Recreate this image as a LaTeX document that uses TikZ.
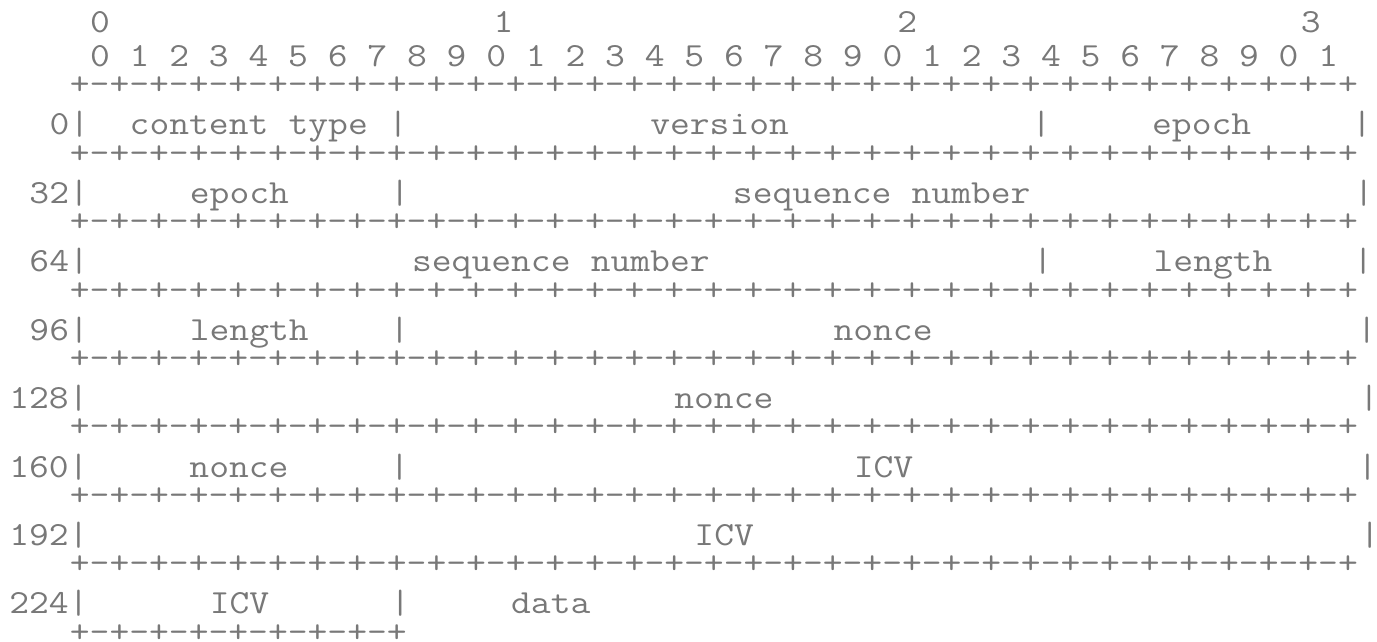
\documentclass[tikz,border=0pt]{standalone}
\usepackage{graphicx}
\definecolor{ascii}{RGB}{120,120,120}
\newcommand\gap[1]{\hspace*{#1\dimexpr 0.525em\relax}}
\newcommand\brdfull{+-+-+-+-+-+-+-+-+-+-+-+-+-+-+-+-+-+-+-+-+-+-+-+-+-+-+-+-+-+-+-+-+}
\newcommand\asline[1]{\scalebox{1.141}[1]{#1}}
\begin{document}
\begin{tikzpicture}[x=1pt,y=1pt,
  asc/.style={anchor=base west, inner sep=0pt, outer sep=0pt, text=ascii,
    font=\fontsize{16.86}{20}\selectfont\ttfamily},
  brd/.style={asc, yshift=3pt}]
\useasboundingbox (0,0) rectangle (688.5,-321);
\def\X{4.65}
\node[asc] (l0)  at (\X,-16.2)  {\asline{\gap{4}0\gap{19}1\gap{19}2\gap{19}3}};
\node[asc] (l1)  at (\X,-33.3)  {\asline{\gap{4}0~1~2~3~4~5~6~7~8~9~0~1~2~3~4~5~6~7~8~9~0~1~2~3~4~5~6~7~8~9~0~1}};
\node[brd] (l2)  at (\X,-50.4)  {\asline{\gap{3}\brdfull}};
\node[asc] (l3)  at (\X,-67.5)  {\asline{\gap{2}0|\gap{2}content\gap{1}type\gap{1}|\gap{12}version\gap{12}|\gap{5}epoch\gap{5}|}};
\node[brd] (l4)  at (\X,-84.6)  {\asline{\gap{3}\brdfull}};
\node[asc] (l5)  at (\X,-101.7) {\asline{\gap{1}32|\gap{5}epoch\gap{5}|\gap{16}sequence\gap{1}number\gap{16}|}};
\node[brd] (l6)  at (\X,-118.8) {\asline{\gap{3}\brdfull}};
\node[asc] (l7)  at (\X,-135.9) {\asline{\gap{1}64|\gap{16}sequence\gap{1}number\gap{16}|\gap{5}length\gap{4}|}};
\node[brd] (l8)  at (\X,-153.0) {\asline{\gap{3}\brdfull}};
\node[asc] (l9)  at (\X,-170.1) {\asline{\gap{1}96|\gap{5}length\gap{4}|\gap{21}nonce\gap{21}|}};
\node[brd] (l10) at (\X,-187.2) {\asline{\gap{3}\brdfull}};
\node[asc] (l11) at (\X,-204.3) {\asline{128|\gap{29}nonce\gap{29}|}};
\node[brd] (l12) at (\X,-221.4) {\asline{\gap{3}\brdfull}};
\node[asc] (l13) at (\X,-238.5) {\asline{160|\gap{5}nonce\gap{5}|\gap{22}ICV\gap{22}|}};
\node[brd] (l14) at (\X,-255.6) {\asline{\gap{3}\brdfull}};
\node[asc] (l15) at (\X,-272.7) {\asline{192|\gap{30}ICV\gap{30}|}};
\node[brd] (l16) at (\X,-289.8) {\asline{\gap{3}\brdfull}};
\node[asc] (l17) at (\X,-306.9) {\asline{224|\gap{6}ICV\gap{6}|\gap{5}data}};
\node[brd] (l18) at (\X,-324.0) {\asline{\gap{3}+-+-+-+-+-+-+-+-+}};
\end{tikzpicture}
\end{document}
